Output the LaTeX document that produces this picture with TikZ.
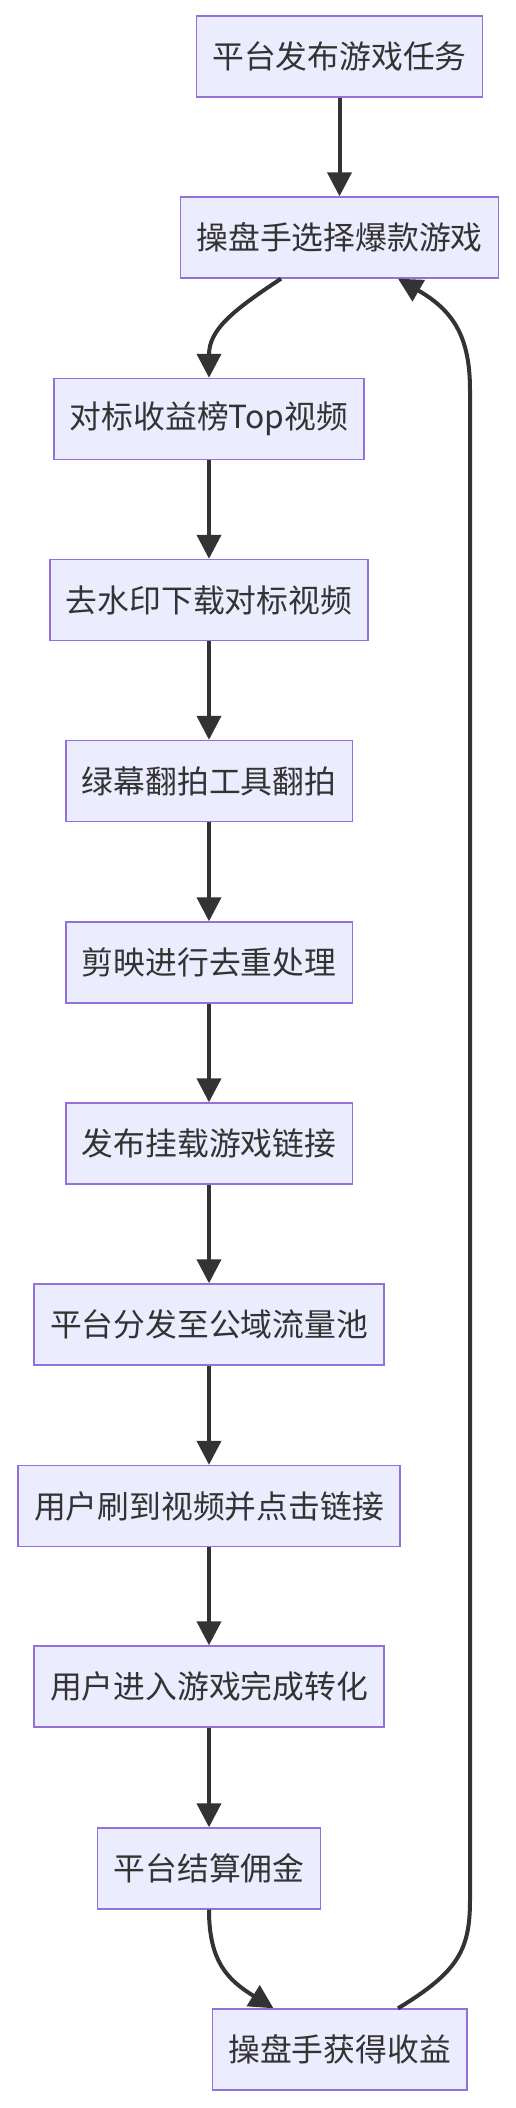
\documentclass[tikz,border=0pt]{standalone}
\usepackage{fontspec}
\setmainfont{Noto Sans CJK SC}
\usepackage{xcolor}
\usetikzlibrary{arrows.meta}
\definecolor{boxfill}{HTML}{ECECFF}
\definecolor{boxline}{HTML}{9370DB}
\definecolor{ink}{HTML}{333333}

\begin{document}
\begin{tikzpicture}[x=1pt,y=-1pt,
    stepbox/.style={draw=boxline, fill=boxfill, line width=1.4pt, text=ink,
        font=\fontsize{31.8pt}{36pt}\selectfont, inner xsep=16pt, inner ysep=0pt,
        minimum height=81pt},
    flow/.style={draw=ink, line width=4pt, -{Triangle[length=24pt,width=24pt]}}]
    \useasboundingbox (0,0) rectangle (516,2108);

    % top: task and selection
    \node[stepbox] (task) at (339.5,56.5) {平台发布游戏任务};
    \node[stepbox] (pick) at (339.5,237.5) {操盘手选择爆款游戏};

    % main column
    \node[stepbox] (top) at (209,419) {对标收益榜Top视频};
    \node[stepbox] (download) at (209,600) {去水印下载对标视频};
    \node[stepbox] (green) at (209,781) {绿幕翻拍工具翻拍};
    \node[stepbox] (edit) at (209,962.5) {剪映进行去重处理};
    \node[stepbox] (post) at (209,1143.5) {发布挂载游戏链接};
    \node[stepbox] (pool) at (209,1324.5) {平台分发至公域流量池};
    \node[stepbox] (click) at (209,1506) {用户刷到视频并点击链接};
    \node[stepbox] (convert) at (209,1686.5) {用户进入游戏完成转化};
    \node[stepbox] (settle) at (209,1868.5) {平台结算佣金};

    % bottom: income
    \node[stepbox] (income) at (339.5,2049.5) {操盘手获得收益};

    % straight steps
    \draw[flow] (task) -- (pick);
    \foreach \a/\b in {top/download, download/green, green/edit, edit/post,
        post/pool, pool/click, click/convert, convert/settle}
        \draw[flow] (\a) -- (\b);

    % curved steps
    \draw[flow] ([xshift=-58.5pt]pick.south) .. controls (232,311) and (209,330) .. (top.north);
    \draw[flow] (settle.south) .. controls (209,1962) and (228,1980) .. ([xshift=-66pt]income.north);

    % loop back
    \draw[flow] ([xshift=58.5pt]income.north) .. controls (458,1972) and (470,1950) .. (470,1900)
        -- (470,390) .. controls (470,335) and (452,310) .. ([xshift=58.5pt]pick.south);
\end{tikzpicture}
\end{document}
